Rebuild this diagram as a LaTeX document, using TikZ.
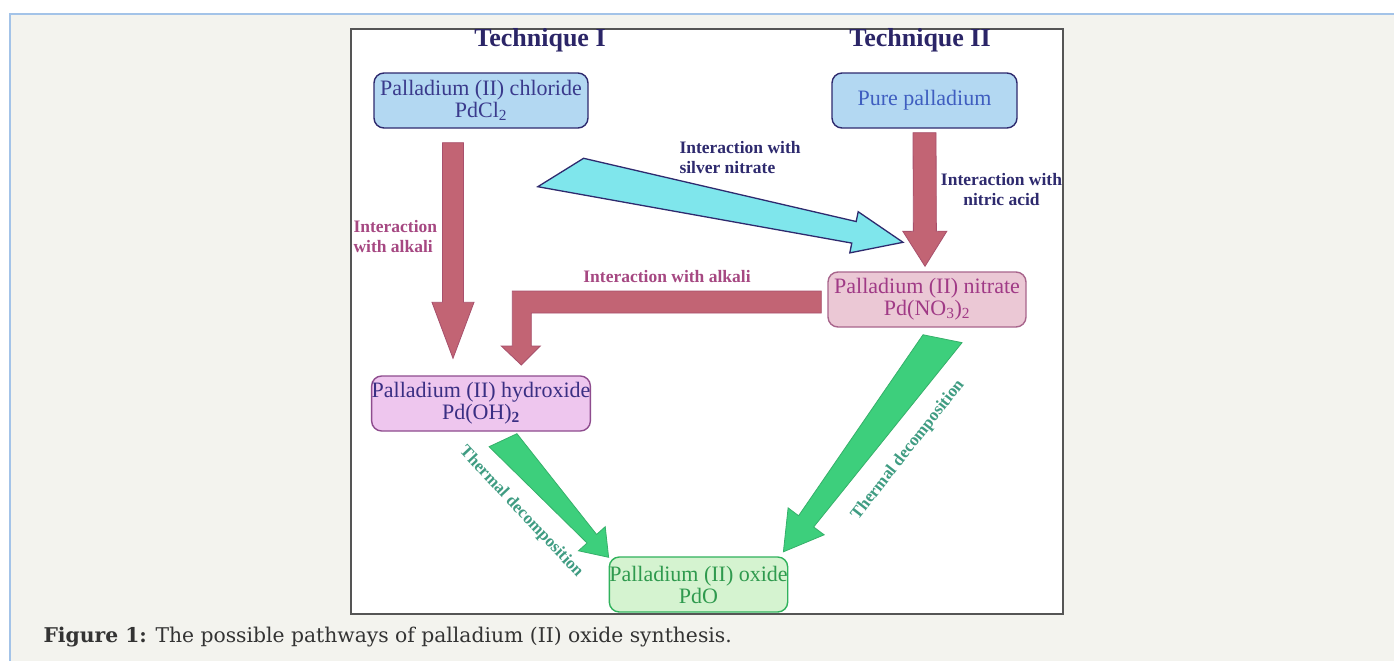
\documentclass[tikz,border=0pt]{standalone}
\usepackage{fontspec}
\setmainfont{Liberation Serif}
\newfontfamily\capfont{DejaVu Serif}
\usetikzlibrary{positioning}
\usetikzlibrary{calc}

\definecolor{pagegrey}{HTML}{F3F3EE}
\definecolor{pageline}{HTML}{A3C3E8}
\definecolor{framegrey}{HTML}{555555}
\definecolor{techcol}{HTML}{2B2567}
\definecolor{navy}{HTML}{2E2A6E}
\definecolor{bluefill}{HTML}{B3D8F2}
\definecolor{cltext}{HTML}{3A3A8C}
\definecolor{puretext}{HTML}{3F5EC0}
\definecolor{maroonfill}{HTML}{C26474}
\definecolor{maroondraw}{HTML}{A8506C}
\definecolor{alkalitext}{HTML}{A64882}
\definecolor{cyanfill}{HTML}{7FE6EC}
\definecolor{nofill}{HTML}{EBC8D5}
\definecolor{nodraw}{HTML}{A8658C}
\definecolor{notext}{HTML}{A03A86}
\definecolor{ohfill}{HTML}{EEC6EE}
\definecolor{ohdraw}{HTML}{8E4C8E}
\definecolor{ohtext}{HTML}{3A2F83}
\definecolor{greenfill}{HTML}{3DCF7C}
\definecolor{greendraw}{HTML}{35B06A}
\definecolor{oxfill}{HTML}{D5F3D0}
\definecolor{oxdraw}{HTML}{30B25C}
\definecolor{oxtext}{HTML}{2F9A4E}
\definecolor{thermtext}{HTML}{3F9C82}
\definecolor{captext}{HTML}{333333}

% block arrow: style, from, to, tail hw, neck hw, head hw, head length, tail skew
\newcommand{\blockarrow}[8]{%
  \path[#1] let \p1=(#2), \p2=(#3),
    \n1={atan2(\y2-\y1,\x2-\x1)}, \n2={veclen(\x2-\x1,\y2-\y1)} in
    [shift={(\p1)}, rotate=\n1]
    (-#8,#4) -- (\n2-#7,#5) -- (\n2-#7,#6) -- (\n2,0)
    -- (\n2-#7,-#6) -- (\n2-#7,-#5) -- (#8,-#4) -- cycle;}

\begin{document}
\begin{tikzpicture}[x=1pt,y=-1pt]
                % Styles
                \tikzset{
                    chembox/.style={draw,rounded corners=10pt,line width=1.4pt,minimum height=55pt,inner sep=0pt,align=center,font=\fontsize{22}{22}\selectfont},
                    techlabel/.style={font=\fontsize{26}{26}\selectfont\bfseries,text=techcol},
                    steplabel/.style={font=\fontsize{17.5}{20}\selectfont\bfseries},
                    thermlabel/.style={font=\fontsize{17}{17}\selectfont\bfseries,text=thermtext},
                    maroonarrow/.style={fill=maroonfill,draw=maroondraw,line width=0.8pt},
                    cyanarrow/.style={fill=cyanfill,draw=navy,line width=1.3pt},
                    greenarrow/.style={fill=greenfill,draw=greendraw,line width=0.8pt}
                }

                % Page and frame
                \useasboundingbox (0,0) rectangle (1394,661);
                \fill[white] (0,0) rectangle (1394,661);
                \fill[pagegrey] (10,14) rectangle (1394,661);
                \draw[pageline,line width=1.5pt] (10,661) -- (10,14) -- (1394,14);
                \draw[framegrey,line width=1.2pt,fill=white] (351,29) rectangle (1063,614);

                % Headings
                \node[techlabel] (tech1) at (540,40) {Technique I};
                \node[techlabel] (tech2) at (920,40) {Technique II};

                % Compounds
                \node[chembox,minimum width=214pt,fill=bluefill,draw=navy,text=cltext] (pdcl) at (481,100.5) {Palladium (II) chloride\\PdCl\textsubscript{2}};
                \node[chembox,minimum width=185pt,fill=bluefill,draw=navy,text=puretext] (pure) at (924.5,100.5) {Pure palladium};
                \node[chembox,minimum width=198pt,fill=nofill,draw=nodraw,text=notext] (pdno) at (927,299.5) {Palladium (II) nitrate\\Pd(NO\textsubscript{3})\textsubscript{2}};
                \node[chembox,minimum width=216pt,fill=ohfill,draw=ohdraw,text=ohtext] (pdoh) at (481,403.5) {Palladium (II) hydroxide\\Pd(OH)\textsubscript{\textbf{2}}};
                \node[chembox,minimum width=177pt,fill=oxfill,draw=oxdraw,text=oxtext] (pdo) at (698.5,584.5) {Palladium (II) oxide\\PdO};

                % Arrows
                \blockarrow{maroonarrow}{$(pdcl.south)+(-28,14)$}{$(pdoh.north)+(-28,-17)$}{10.5}{10.5}{21}{56}{0}
                \blockarrow{maroonarrow}{$(pure.south)+(0,4)$}{$(pdno.north)+(-2,-5)$}{11.5}{11.5}{22}{35}{0}
                \blockarrow{cyanarrow}{$(pdcl.east)+(-28,72)$}{$(pdno.north)+(-24,-29)$}{18.5}{11}{21}{50}{19.6}
                \blockarrow{greenarrow}{$(pdoh.south)+(22,8.5)$}{$(pdo.north west)+(0,1)$}{14.7}{6.4}{18}{25}{4.5}
                \blockarrow{greenarrow}{$(pdno.south)+(15.5,11)$}{$(pdo.north east)+(-5,-4.5)$}{18}{9.4}{22.5}{38}{-8.5}
                \draw[maroonarrow] ($(pdno.west)+(-6,-8.5)$) -- ++(-309,0) -- ++(0,55) -- ++(-11,0)
                    -- ++(20,19) -- ++(19,-19) -- ++(-9,0) -- ++(0,-33) -- ++(290,0) -- cycle;

                % Labels
                \node[steplabel,text=alkalitext,align=left,anchor=west] (alk1) at (350,237) {Interaction\\with alkali};
                \node[steplabel,text=alkalitext] (alk2) at (667,277) {Interaction with alkali};
                \node[steplabel,text=navy,align=left,anchor=west] (silver) at (676,158) {Interaction with\\silver nitrate};
                \node[steplabel,text=navy,align=center] (nitric) at (1001.5,190) {Interaction with\\nitric acid};
                \node[thermlabel,rotate=-46.8] (therm1) at (521,512) {Thermal decomposition};
                \node[thermlabel,rotate=51.9] (therm2) at (908,450) {Thermal decomposition};

                % Caption
                \node[anchor=west,font=\capfont\fontsize{20.3}{22}\selectfont,text=captext] (caption) at (40,637) {\textbf{Figure 1:} The possible pathways of palladium (II) oxide synthesis.};
\end{tikzpicture}
\end{document}
